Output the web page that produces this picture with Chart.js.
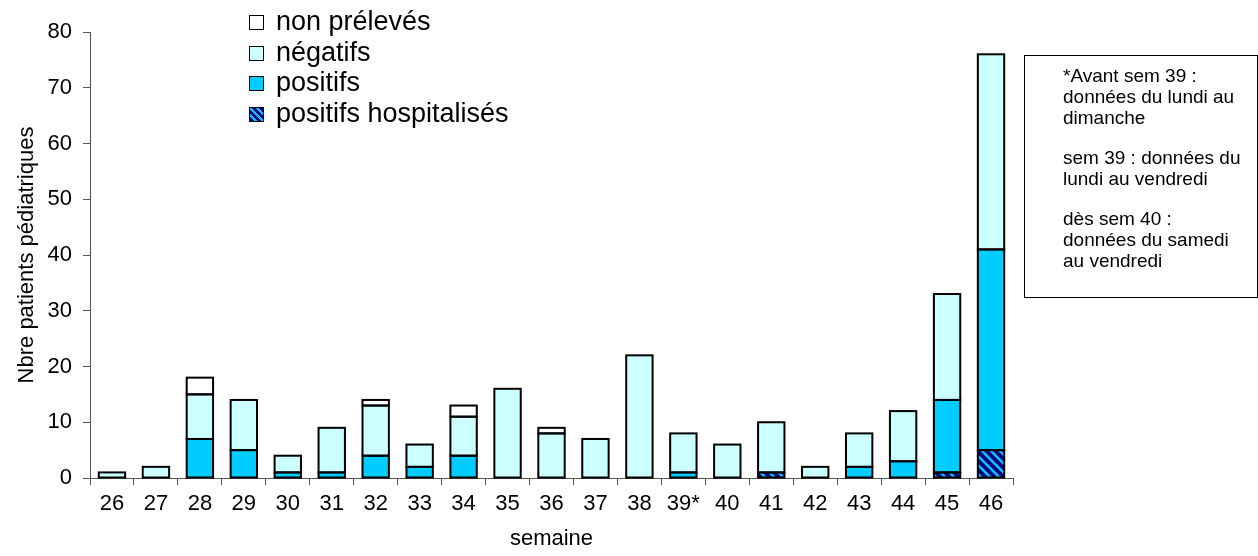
<!DOCTYPE html>
<html>
<head>
<meta charset="utf-8">
<script src="https://cdn.jsdelivr.net/npm/chart.js@4"></script>
<style>
    body { margin: 0; background: #fff; font-family: 'Liberation Sans', Arial, sans-serif; }
    #wrap { position: relative; width: 1258px; height: 556px; }
    #legend { position: absolute; left: 249px; top: 6px; font-size: 27px; color: #000; }
    #legend .row { height: 30.5px; line-height: 30.5px; white-space: nowrap; }
    #legend .sw { display: inline-block; width: 13px; height: 13px; border: 1.5px solid #000; margin-right: 12px; vertical-align: 0px; }
    #note { position: absolute; left: 1024px; top: 55px; width: 232px; height: 241px; border: 1px solid #000;
            font-size: 19px; line-height: 21px; color: #000; }
    #note p { margin: 0 0 19px 38px; white-space: nowrap; }
    #note p:first-child { margin-top: 9px; }
</style>
</head>
<body>
<div id="wrap">
    <canvas id="chart" width="1258" height="556"></canvas>
    <div id="legend">
        <div class="row"><span class="sw" style="background:#fff"></span>non prélevés</div>
        <div class="row"><span class="sw" style="background:#ccffff"></span>négatifs</div>
        <div class="row"><span class="sw" style="background:#00ccff"></span>positifs</div>
        <div class="row"><span class="sw" style="background:repeating-linear-gradient(45deg,#000080 0 3px,#00ccff 3px 5px)"></span>positifs hospitalisés</div>
    </div>
    <div id="note">
        <p>*Avant sem 39 :<br>données du lundi au<br>dimanche</p>
        <p>sem 39 : données du<br>lundi au vendredi</p>
        <p>dès sem 40 :<br>données du samedi<br>au vendredi</p>
    </div>
</div>
<script>
// ===================================
// DATA
// ===================================

const weeks = ['26', '27', '28', '29', '30', '31', '32', '33', '34', '35', '36',
               '37', '38', '39*', '40', '41', '42', '43', '44', '45', '46'];

const hospitalises = [null, null, null, null, null, null, null, null, null, null, null,
                      null, null, null, null, 1, null, null, null, 1, 5];
const positifs     = [null, null, 7, 5, 1, 1, 4, 2, 4, null, null,
                      null, null, 1, null, null, null, 2, 3, 13, 36];
const negatifs     = [1, 2, 8, 9, 3, 8, 9, 4, 7, 16, 8,
                      7, 22, 7, 6, 9, 2, 6, 9, 19, 35];
const nonPreleves  = [null, null, 3, null, null, null, 1, null, 2, null, 1,
                      null, null, null, null, null, null, null, null, null, null];

const yTicks = [0, 10, 20, 30, 40, 50, 60, 70, 80];

// ===================================
// HATCH PATTERN + OUTLINES
// ===================================

function makeHatch() {
    const c = document.createElement('canvas');
    c.width = 9;
    c.height = 9;
    const g = c.getContext('2d');
    g.fillStyle = '#000080';
    g.fillRect(0, 0, 9, 9);
    g.strokeStyle = '#00ccff';
    g.lineWidth = 2.5;
    [[-9, -9, 18, 18], [-9, 0, 9, 18], [0, -9, 18, 9]].forEach(([x1, y1, x2, y2]) => {
        g.beginPath();
        g.moveTo(x1, y1);
        g.lineTo(x2, y2);
        g.stroke();
    });
    return g.createPattern(c, 'repeat');
}

// stroke each segment centred on its edge (Excel style), instead of Chart.js inset borders
const outlinePlugin = {
    id: 'outline',
    afterDatasetsDraw(chart) {
        const ctx = chart.ctx;
        ctx.save();
        ctx.strokeStyle = '#000';
        ctx.lineWidth = 2;
        chart.data.datasets.forEach((ds, i) => {
            chart.getDatasetMeta(i).data.forEach((bar, j) => {
                if (ds.data[j] == null) return;
                const p = bar.getProps(['x', 'y', 'base', 'width'], true);
                ctx.strokeRect(p.x - p.width / 2, Math.min(p.y, p.base), p.width, Math.abs(p.base - p.y));
            });
        });
        ctx.restore();
    }
};

const tickFont = { family: "'Liberation Sans', Arial, sans-serif", size: 22 };

function seg(label, data, bg) {
    return {
        label: label,
        data: data,
        backgroundColor: bg,
        borderWidth: 0,
        categoryPercentage: 1,
        barPercentage: 0.6
    };
}

new Chart(document.getElementById('chart').getContext('2d'), {
    type: 'bar',
    data: {
        labels: weeks,
        datasets: [
            seg('positifs hospitalisés', hospitalises, makeHatch()),
            seg('positifs', positifs, '#00ccff'),
            seg('négatifs', negatifs, '#ccffff'),
            seg('non prélevés', nonPreleves, '#ffffff')
        ]
    },
    plugins: [outlinePlugin],
    options: {
        responsive: false,
        animation: false,
        layout: { padding: { left: 0, right: 245, top: 32, bottom: 0 } },
        plugins: { legend: { display: false }, tooltip: { enabled: false } },
        scales: {
            x: {
                stacked: true,
                afterFit: axis => { axis.height = 78; },
                grid: { offset: true, drawOnChartArea: false, color: '#555', tickLength: 7 },
                border: { color: '#555', width: 1 },
                ticks: { color: '#000', font: tickFont, padding: 6, maxRotation: 0 },
                title: { display: true, text: 'semaine', color: '#000', font: tickFont, padding: { top: 0 } }
            },
            y: {
                stacked: true,
                min: 0,
                max: 80,
                afterFit: axis => { axis.width = 90; },
                afterBuildTicks: axis => { axis.ticks = yTicks.map(v => ({ value: v })); },
                grid: { drawOnChartArea: false, color: '#555', tickLength: 7 },
                border: { color: '#555', width: 1 },
                ticks: { color: '#000', font: tickFont, padding: 11 },
                title: { display: true, text: 'Nbre patients pédiatriques', color: '#000', font: tickFont, padding: { top: 14, bottom: 0 } }
            }
        }
    }
});
</script>
</body>
</html>
